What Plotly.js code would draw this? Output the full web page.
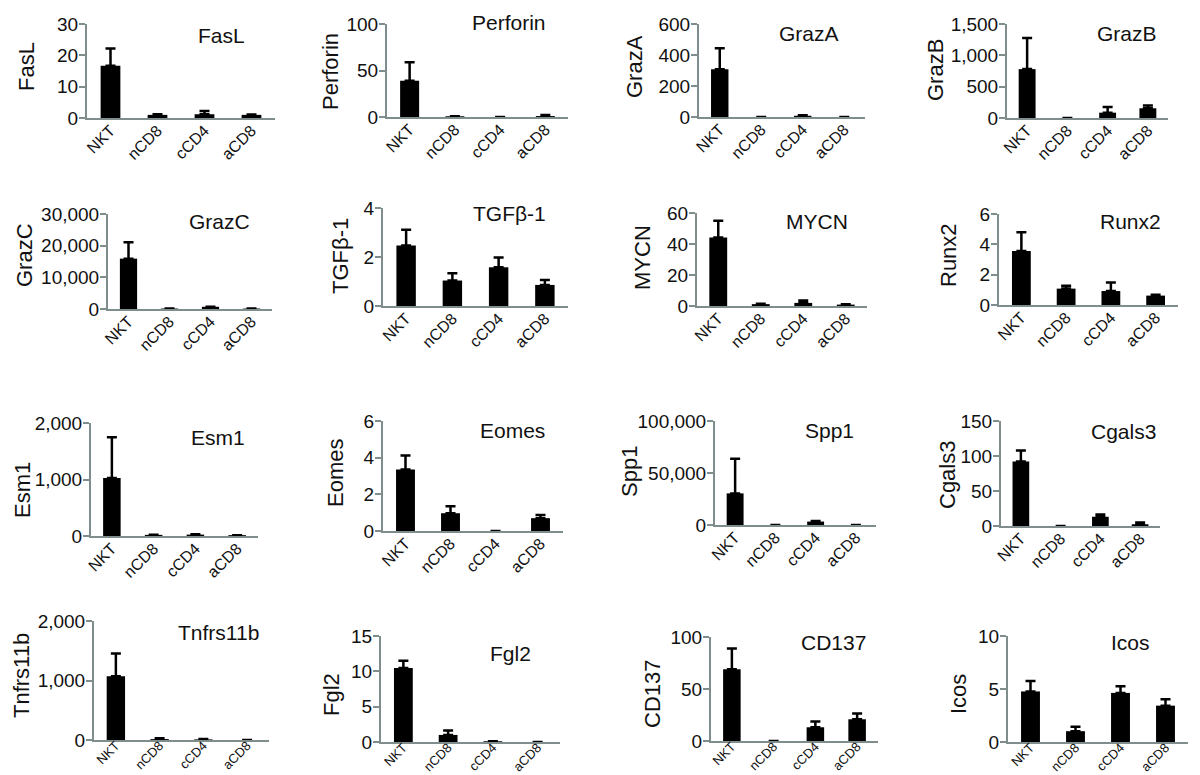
<!DOCTYPE html>
<html><head><meta charset="utf-8">
<script src="https://cdn.plot.ly/plotly-3.0.1.min.js"></script>
<style>html,body{margin:0;padding:0;background:#fff}#chart{width:1200px;height:775px}</style>
</head><body><div id="chart"></div>
<script>
// ---- data ----
const categories = ['NKT', 'nCD8', 'cCD4', 'aCD8'];
const genes = ['FasL', 'Perforin', 'GrazA', 'GrazB', 'GrazC', 'TGFβ-1', 'MYCN', 'Runx2',
               'Esm1', 'Eomes', 'Spp1', 'Cgals3', 'Tnfrs11b', 'Fgl2', 'CD137', 'Icos'];

const valFasL = [16.7, 1.0, 1.2, 1.0];        const errFasL = [5.5, 0.2, 1.0, 0.1];
const valPerforin = [39, 0.8, 0, 1.0];        const errPerforin = [20, 0, 0, 1.2];
const valGrazA = [308, 0, 8, 0];              const errGrazA = [135, 0, 3, 0];
const valGrazB = [780, 0, 85, 155];           const errGrazB = [495, 0, 90, 45];
const valGrazC = [15900, 150, 700, 150];      const errGrazC = [5150, 0, 0, 0];
const valTGFb1 = [2.47, 1.04, 1.58, 0.86];    const errTGFb1 = [0.64, 0.30, 0.40, 0.20];
const valMYCN = [44.2, 1.2, 2.0, 0.9];        const errMYCN = [10.8, 0.2, 1.5, 0.3];
const valRunx2 = [3.56, 1.08, 0.92, 0.62];    const errRunx2 = [1.23, 0.19, 0.57, 0.05];
const valEsm1 = [1027, 20, 25, 15];           const errEsm1 = [720, 0, 5, 0];
const valEomes = [3.36, 0.97, 0, 0.70];       const errEomes = [0.76, 0.38, 0, 0.17];
const valSpp1 = [30400, 0, 3300, 0];          const errSpp1 = [33300, 0, 500, 0];
const valCgals3 = [92.3, 0, 13.2, 2.5];       const errCgals3 = [15.4, 0, 3.3, 2.5];
const valTnfrs11b = [1071, 15, 10, 0];        const errTnfrs11b = [384, 15, 5, 0];
const valFgl2 = [10.47, 1.0, 0.1, 0];         const errFgl2 = [1.03, 0.63, 0, 0];
const valCD137 = [68.9, 0, 13.2, 20.9];       const errCD137 = [20.1, 0, 5.5, 5.5];
const valIcos = [4.77, 1.02, 4.63, 3.43];     const errIcos = [0.99, 0.43, 0.64, 0.6];

// y-axis tick range (max tick) and tick step per panel
const yMax  = [30, 100, 600, 1500, 30000, 4, 60, 6, 2000, 6, 100000, 150, 2000, 15, 100, 10];
const yStep = [10, 50, 200, 500, 10000, 2, 20, 2, 1000, 2, 50000, 50, 1000, 5, 50, 5];

const values = [valFasL, valPerforin, valGrazA, valGrazB, valGrazC, valTGFb1, valMYCN, valRunx2,
                valEsm1, valEomes, valSpp1, valCgals3, valTnfrs11b, valFgl2, valCD137, valIcos];
const errors = [errFasL, errPerforin, errGrazA, errGrazB, errGrazC, errTGFb1, errMYCN, errRunx2,
                errEsm1, errEomes, errSpp1, errCgals3, errTnfrs11b, errFgl2, errCD137, errIcos];

// ---- layout geometry (pixels): [axisLeft, axisRight, top, zero] ----
const W = 1200, H = 775;
const box = [
  [87, 275, 24, 118], [387, 568, 24, 117], [699, 865, 24, 117], [1007, 1168, 24, 118],
  [108, 272, 214, 309], [383, 568, 208, 306], [697, 867, 213, 306], [999, 1178, 214, 305],
  [91, 258, 423, 536], [383, 563, 421, 531], [715, 876, 421, 525], [1001, 1160, 421, 526],
  [94, 269, 621, 740], [381, 560, 636, 742], [711, 878, 637, 741], [1008, 1188, 636, 742]
];
// panel title centres and y-title centres (pixels)
const titlePos = [
  [221, 35], [509, 22], [809, 33], [1127, 33],
  [219, 222], [509, 213], [817, 222], [1130, 222],
  [218, 437], [512, 430], [829, 430], [1123, 432],
  [218, 632], [510, 653], [834, 642], [1130, 642]
];
const yTitlePos = [
  [27, 67], [330, 72], [635, 67], [935, 70],
  [24, 255], [340, 256], [642, 258], [948, 255],
  [23, 490], [335, 473], [629, 472], [947, 475],
  [21, 676], [331, 695], [652, 694], [958, 694]
];
const xTickSize = [16, 16, 16, 16, 16, 16, 16, 16, 16, 16, 16, 16, 13, 13, 13, 13];

const FONT = 'Liberation Sans, Arial, Helvetica, sans-serif';
const AXC = '#7f8d8d';
const traces = [];
const layout = {
  width: W, height: H, margin: {l: 0, r: 0, t: 0, b: 0},
  paper_bgcolor: '#fff', plot_bgcolor: 'rgba(0,0,0,0)',
  showlegend: false, separators: '.,',
  font: {family: FONT, color: '#111'},
  annotations: []
};

genes.forEach((g, i) => {
  const n = i === 0 ? '' : String(i + 1);
  const [x0, x1, yt, yz] = box[i];
  traces.push({
    type: 'bar', x: categories, y: values[i],
    xaxis: 'x' + n, yaxis: 'y' + n,
    width: 0.42,
    marker: {color: '#000', line: {width: 0}},
    error_y: {
      type: 'data', symmetric: false,
      array: errors[i].map((e, k) => (e === 0 && values[i][k] === 0) ? NaN : e),
      arrayminus: errors[i].map(() => 0),
      color: '#000', thickness: 2.5, width: 5
    },
    hoverinfo: 'x+y'
  });
  layout['xaxis' + n] = {
    domain: [x0 / W, x1 / W], anchor: 'y' + n,
    range: [-0.5, 3.5], type: 'category',
    showline: true, linecolor: AXC, linewidth: 2,
    ticks: '', showgrid: false, zeroline: false,
    tickangle: -45, ticklabelstandoff: i >= 12 ? -9 : -5,
    tickfont: {family: FONT, size: xTickSize[i], color: '#111'},
    fixedrange: true
  };
  layout['yaxis' + n] = {
    domain: [1 - yz / H, 1 - yt / H], anchor: 'x' + n,
    range: [0, yMax[i]], tick0: 0, dtick: yStep[i], tickformat: ',',
    showline: true, linecolor: AXC, linewidth: 2,
    ticks: 'outside', ticklen: 6, tickwidth: 2, tickcolor: AXC,
    ticklabelstandoff: -3,
    showgrid: false, zeroline: false,
    tickfont: {family: FONT, size: 19, color: '#111'},
    fixedrange: true
  };
  layout.annotations.push({
    text: g, xref: 'paper', yref: 'paper',
    x: titlePos[i][0] / W, y: 1 - titlePos[i][1] / H,
    xanchor: 'center', yanchor: 'middle', showarrow: false,
    font: {family: FONT, size: 21, color: '#111'}
  });
  layout.annotations.push({
    text: g, xref: 'paper', yref: 'paper',
    x: yTitlePos[i][0] / W, y: 1 - yTitlePos[i][1] / H,
    xanchor: 'center', yanchor: 'middle', showarrow: false, textangle: -90,
    font: {family: FONT, size: 22, color: '#111'}
  });
});

Plotly.newPlot('chart', traces, layout, {staticPlot: true, displayModeBar: false});
</script>
</body></html>
